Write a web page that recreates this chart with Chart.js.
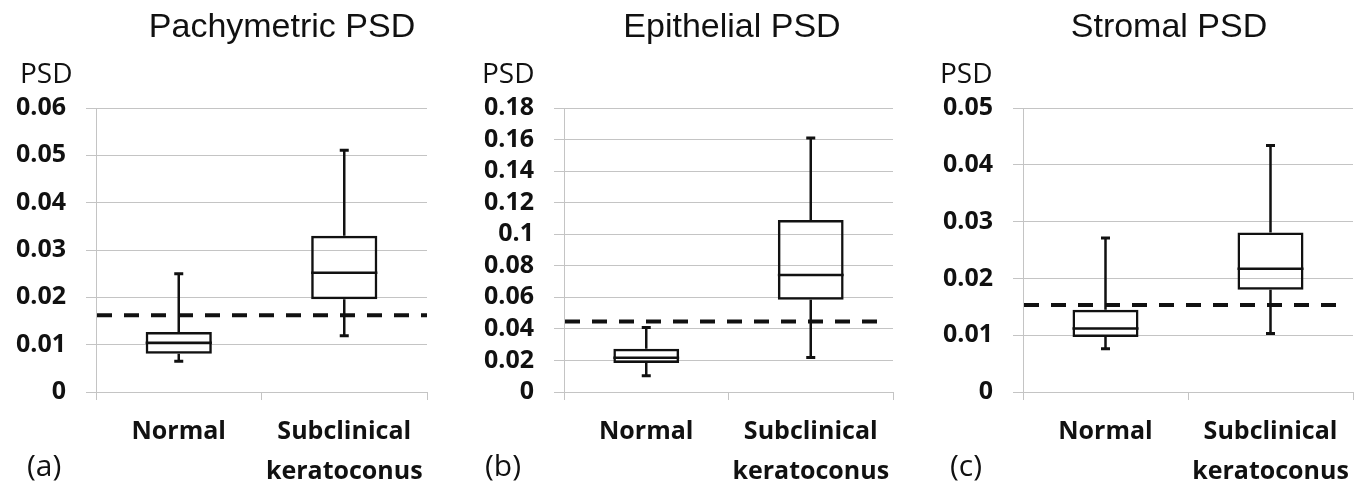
<!DOCTYPE html>
<html lang="en">
<head>
<meta charset="UTF-8">
<title>PSD box plots</title>
<script src="https://cdn.jsdelivr.net/npm/chart.js"></script>
<style>
    body { margin: 0; background: #fff; }
    #wrap { position: relative; width: 1370px; height: 487px; overflow: hidden; }
    canvas { position: absolute; top: 0; }
</style>
</head>
<body>
<div id="wrap">
    <canvas id="chartA" width="455" height="487" style="left:0"></canvas>
    <canvas id="chartB" width="455" height="487" style="left:455px"></canvas>
    <canvas id="chartC" width="460" height="487" style="left:910px"></canvas>
</div>
<script>
    const categories = ['Normal', ['Subclinical', 'keratoconus']];

    // box stats: [min, q1, median, q3, max]
    const pachyNormal = [0.0065, 0.0081, 0.0104, 0.0127, 0.0250];
    const pachySubclinical = [0.0119, 0.0196, 0.0252, 0.0330, 0.0511];
    const pachyCutoff = 0.0162;
    const pachyTicks = [0, 0.01, 0.02, 0.03, 0.04, 0.05, 0.06];

    const epiNormal = [0.0103, 0.0184, 0.0217, 0.0274, 0.0409];
    const epiSubclinical = [0.0219, 0.0584, 0.0742, 0.109, 0.161];
    const epiCutoff = 0.0447;
    const epiTicks = [0, 0.02, 0.04, 0.06, 0.08, 0.1, 0.12, 0.14, 0.16, 0.18];

    const stromaNormal = [0.0076, 0.0097, 0.0112, 0.0145, 0.0271];
    const stromaSubclinical = [0.0103, 0.0180, 0.0217, 0.0281, 0.0434];
    const stromaCutoff = 0.0153;
    const stromaTicks = [0, 0.01, 0.02, 0.03, 0.04, 0.05];

    const gridColor = '#c4c4c4';
    const ink = '#111';

    // whiskers, medians, cutoff line and the loose texts
    const boxPlugin = {
        id: 'boxplot',
        beforeDatasetsDraw(chart, args, opts) {
            const ctx = chart.ctx;
            const area = chart.chartArea;
            const y = chart.scales.y.getPixelForValue(opts.cutoff);
            ctx.save();
            ctx.strokeStyle = ink;
            ctx.lineWidth = 4;
            ctx.setLineDash([15, 12]);
            ctx.beginPath();
            ctx.moveTo(area.left + 1, y);
            ctx.lineTo(area.right - opts.dashInset, y);
            ctx.stroke();
            ctx.restore();
        },
        afterDatasetsDraw(chart, args, opts) {
            const ctx = chart.ctx;
            const ys = chart.scales.y;
            const bars = chart.getDatasetMeta(0).data;
            ctx.save();
            ctx.strokeStyle = ink;
            bars.forEach((bar, i) => {
                const s = opts.stats[i];
                const x = bar.x, half = bar.width / 2;
                ctx.lineWidth = 2.5;
                ctx.beginPath();
                ctx.moveTo(x - half, ys.getPixelForValue(s[2]));
                ctx.lineTo(x + half, ys.getPixelForValue(s[2]));
                ctx.moveTo(x, ys.getPixelForValue(s[3]));
                ctx.lineTo(x, ys.getPixelForValue(s[4]));
                ctx.moveTo(x, ys.getPixelForValue(s[1]));
                ctx.lineTo(x, ys.getPixelForValue(s[0]));
                ctx.stroke();
                ctx.lineWidth = 3;
                ctx.beginPath();
                ctx.moveTo(x - 4.5, ys.getPixelForValue(s[4]));
                ctx.lineTo(x + 4.5, ys.getPixelForValue(s[4]));
                ctx.moveTo(x - 4.5, ys.getPixelForValue(s[0]));
                ctx.lineTo(x + 4.5, ys.getPixelForValue(s[0]));
                ctx.stroke();
            });
            ctx.restore();
        },
        afterDraw(chart, args, opts) {
            const ctx = chart.ctx;
            ctx.save();
            ctx.fillStyle = ink;
            ctx.textBaseline = 'alphabetic';
            ctx.textAlign = 'center';
            ctx.font = '34px "Liberation Sans", Arial, sans-serif';
            ctx.fillText(opts.title, opts.titleX, 37);
            ctx.textAlign = 'left';
            ctx.font = '28px "Open Sans", sans-serif';
            ctx.fillText('PSD', opts.psdX, 83);
            ctx.font = '30px "Open Sans", sans-serif';
            ctx.fillText(opts.tag, opts.tagX, 476);
            ctx.restore();
        }
    };

    function makeChart(id, p) {
        const top = p.ticks[p.ticks.length - 1];
        return new Chart(document.getElementById(id), {
            type: 'bar',
            data: {
                labels: categories,
                datasets: [{
                    data: [[p.normal[1], p.normal[3]], [p.sub[1], p.sub[3]]],
                    backgroundColor: 'rgba(0,0,0,0)',
                    borderColor: ink,
                    borderWidth: 2.5,
                    borderSkipped: false,
                    barPercentage: 0.4,
                    categoryPercentage: 1
                }]
            },
            options: {
                responsive: false,
                animation: false,
                layout: { padding: { top: 108, right: p.padRight, left: 0, bottom: 0 } },
                plugins: {
                    legend: { display: false },
                    tooltip: { enabled: false },
                    boxplot: {
                        stats: [p.normal, p.sub],
                        cutoff: p.cutoff,
                        dashInset: p.dashInset,
                        title: p.title, titleX: p.titleX,
                        tag: p.tag, tagX: p.tagX,
                        psdX: p.psdX
                    }
                },
                scales: {
                    x: {
                        grid: { offset: true, drawOnChartArea: false, color: gridColor, tickLength: 8 },
                        border: { color: gridColor },
                        ticks: {
                            color: ink, autoSkip: false, maxRotation: 0, padding: 12,
                            font: { family: '"Open Sans", sans-serif', size: 25, weight: 'bold', lineHeight: 1.6 }
                        },
                        afterFit: s => { s.height = 95; }
                    },
                    y: {
                        min: 0,
                        max: top,
                        afterBuildTicks: s => { s.ticks = p.ticks.map(v => ({ value: v })); },
                        grid: { color: gridColor, tickLength: 10 },
                        border: { color: gridColor },
                        ticks: {
                            color: ink, padding: 20, autoSkip: false,
                            font: { family: '"Open Sans", sans-serif', size: 25, weight: 'bold' },
                            callback: v => String(v)
                        },
                        afterFit: s => { s.width = p.axisWidth; }
                    }
                }
            },
            plugins: [boxPlugin]
        });
    }

    makeChart('chartA', {
        normal: pachyNormal, sub: pachySubclinical, cutoff: pachyCutoff, ticks: pachyTicks,
        title: 'Pachymetric PSD', titleX: 282, tag: '(a)', tagX: 27, psdX: 20,
        axisWidth: 96, padRight: 28, dashInset: 0
    });
    makeChart('chartB', {
        normal: epiNormal, sub: epiSubclinical, cutoff: epiCutoff, ticks: epiTicks,
        title: 'Epithelial PSD', titleX: 277, tag: '(b)', tagX: 30, psdX: 27,
        axisWidth: 109, padRight: 17, dashInset: 15
    });
    makeChart('chartC', {
        normal: stromaNormal, sub: stromaSubclinical, cutoff: stromaCutoff, ticks: stromaTicks,
        title: 'Stromal PSD', titleX: 259, tag: '(c)', tagX: 40, psdX: 30,
        axisWidth: 113, padRight: 17, dashInset: 14
    });
</script>
</body>
</html>
